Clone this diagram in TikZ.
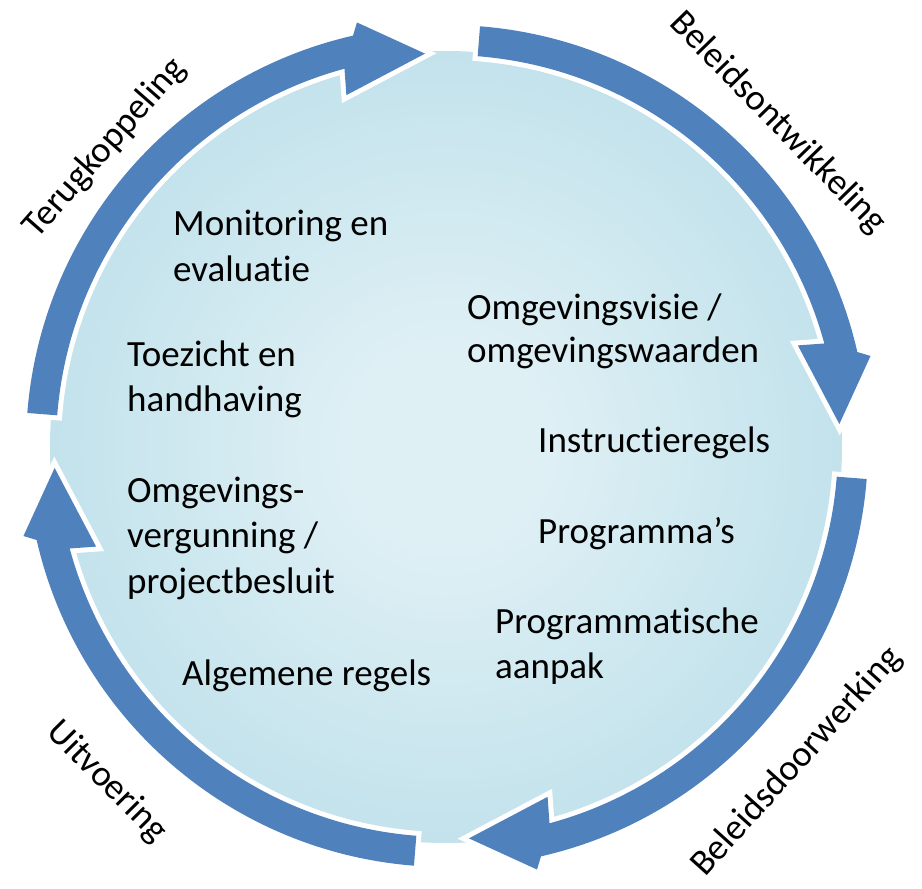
\documentclass[tikz,border=0pt]{standalone}
\usepackage{fontspec}
\setmainfont{Carlito}[Ligatures={NoCommon}]
\definecolor{arrowblue}{HTML}{4F81BD}
\definecolor{cA}{HTML}{DFF0F5}
\definecolor{cB}{HTML}{B2DAE6}
\definecolor{cC}{HTML}{DDEFF4}
\pgfdeclareradialshading{discshade}{\pgfpointorigin}{color(0bp)=(cA); color(6bp)=(cA); color(36bp)=(cB); color(50bp)=(cC)}
\tikzset{
  lbl/.style={inner sep=0pt, anchor=base west, font=\fontsize{37}{46}\selectfont},
  outer/.style={inner sep=0pt, font=\fontsize{36.5}{46}\selectfont},
  cyc/.pic={
    \fill[arrowblue, preaction={draw=white, line width=10pt, miter limit=6}]
      (85.5:421) arc[start angle=85.5, end angle=12.9, radius=421]
      -- (12:433) -- (3.2:393) -- (16:365) -- (15.2:391)
      arc[start angle=15.2, end angle=85.5, radius=391] -- cycle;
  }
}
\begin{document}
\begin{tikzpicture}[x=1pt, y=1pt]
\useasboundingbox[fill=white] (-447,-443) rectangle (475,446);
\shade[shading=discshade] (-1,-1) circle[radius=396];
\pic {cyc};
\pic[rotate=-90] {cyc};
\pic[rotate=-180] {cyc};
\pic[rotate=-270] {cyc};

\node[lbl] (m1) at (-274,210) {Monitoring en};
\node[lbl] (m2) at (-274,164) {evaluatie};
\node[lbl] (t1) at (-320,79) {Toezicht en};
\node[lbl] (t2) at (-320,34) {handhaving};
\node[lbl] (o1) at (-320,-57) {Omgevings-};
\node[lbl] (o2) at (-320,-102) {vergunning /};
\node[lbl] (o3) at (-320,-147) {projectbesluit};
\node[lbl] (a1) at (-265,-239) {Algemene regels};
\node[lbl] (v1) at (20,126) {Omgevingsvisie /};
\node[lbl] (v2) at (20,83) {omgevingswaarden};
\node[lbl] (i1) at (91,-7) {Instructieregels};
\node[lbl] (p1) at (91,-98) {Programma’s};
\node[lbl] (q1) at (48,-187) {Programmatische};
\node[lbl] (q2) at (48,-232) {aanpak};

\node[outer, rotate=-45.7] (bo) at (331,323) {Beleidsontwikkeling};
\node[outer, rotate=48.7] (tk) at (-342,298) {Terugkoppeling};
\node[outer, rotate=48] (bd) at (350,-316) {Beleidsdoorwerking};
\node[outer, rotate=-45.3] (uv) at (-340,-336) {Uitvoering};
\end{tikzpicture}
\end{document}
